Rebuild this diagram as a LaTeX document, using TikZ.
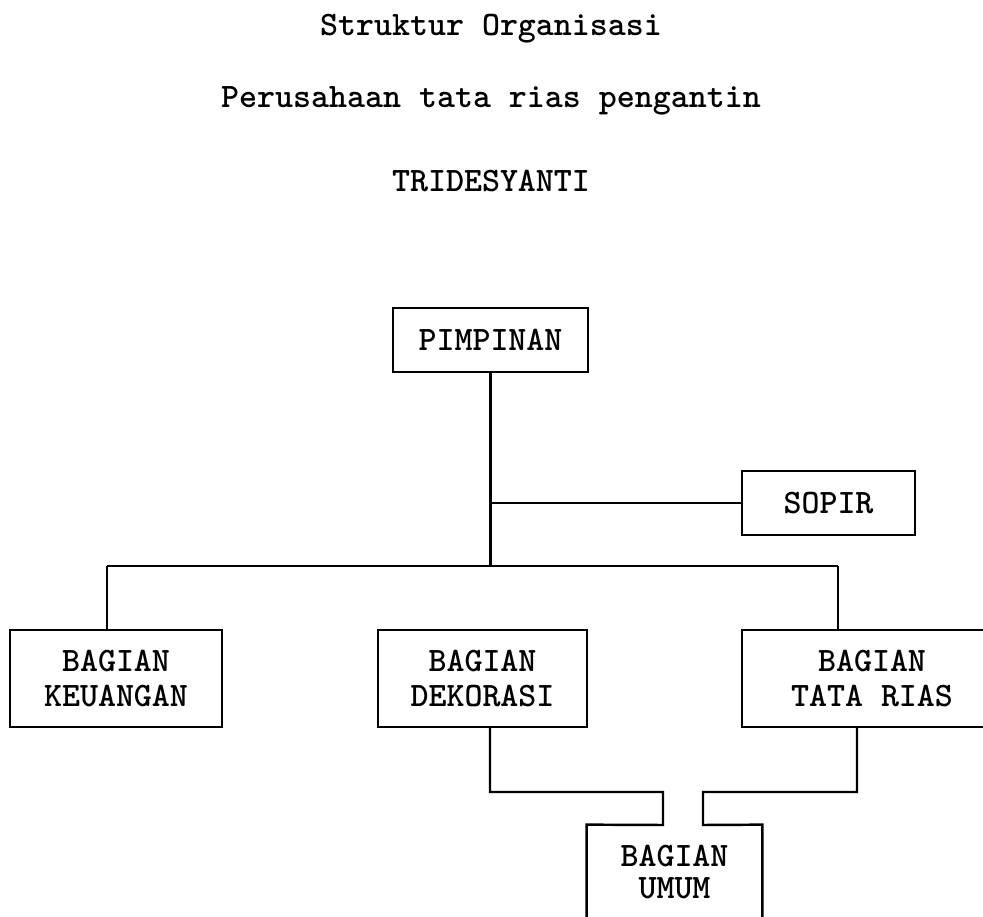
\documentclass[tikz,border=0pt]{standalone}
\usepackage{tikz}
\usetikzlibrary{positioning}

\begin{document}
\begin{tikzpicture}[scale=1.0,
  every node/.style={font=\ttfamily\bfseries\fontsize{19.5}{19.5}\selectfont},
  unitbox/.style={draw, line width=1.4pt, align=center, inner sep=0pt},
  link/.style={line width=1.4pt}]

\useasboundingbox (0,0) rectangle (19.66,-18.34);
\clip (0,0) rectangle (19.66,-18.34);

% --- Titles ---
\node[anchor=base] (judul) at (9.82,-0.72) {Struktur Organisasi};
\node[anchor=base] (usaha) at (9.82,-2.16) {Perusahaan tata rias pengantin};
\node[anchor=base] (nama) at (9.82,-3.84) {TRIDESYANTI};

% --- Boxes ---
\node[unitbox, minimum width=3.9cm, minimum height=1.28cm] (pimpinan) at (9.81,-6.8) {PIMPINAN};
\node[unitbox, minimum width=3.46cm, minimum height=1.28cm] (sopir) at (16.57,-10.06) {SOPIR};
\node[unitbox, minimum width=4.24cm, minimum height=1.94cm] (keuangan) at (2.32,-13.57) {BAGIAN\\KEUANGAN};
\node[unitbox, minimum width=4.18cm, minimum height=1.94cm] (dekorasi) at (9.65,-13.57) {BAGIAN\\DEKORASI};
\node[unitbox, minimum width=5.2cm, minimum height=1.94cm] (tatarias) at (17.44,-13.57) {BAGIAN\\TATA RIAS};
% Bagian umum: outline drawn by hand (open top, cut at bottom)
\node[align=center, minimum width=3.5cm, minimum height=1.88cm, inner sep=0pt,
  font=\ttfamily\bfseries\fontsize{19.5}{18.5}\selectfont] (umum) at (13.49,-17.44) {BAGIAN\\UMUM};

% --- Bus lines ---
\coordinate (busL) at (2.14,-11.32);
\coordinate (busR) at (16.76,-11.32);
\coordinate (bus) at (pimpinan.south |- busL);
\draw[link] (pimpinan.south) -- (bus);
\draw[link] (bus |- sopir.west) -- (sopir.west);
\draw[link] (busL) -- (busR);
\draw[link] (busL) -- (busL |- keuangan.north);
\draw[link] (busR) -- (busR |- tatarias.north);

% --- Lower links to Bagian Umum ---
\coordinate (dk) at (9.8,-14.54);
\coordinate (tr) at (17.14,-14.54);
\coordinate (umL) at (13.26,-16.5);
\coordinate (umR) at (14.06,-16.5);
\draw[link] (dk) -- (dk |- 0,-15.84) -| (umL) -- (umum.north west) -- ([yshift=-1cm]umum.south west);
\draw[link] (tr) -- (tr |- 0,-15.84) -| (umR) -- (umum.north east) -- ([yshift=-1cm]umum.south east);
\end{tikzpicture}
\end{document}
